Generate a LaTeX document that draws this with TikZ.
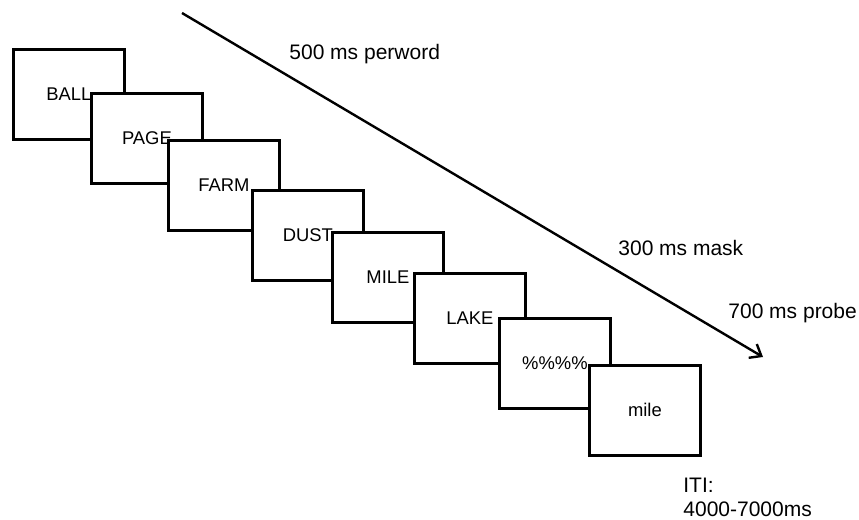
\documentclass[tikz,border=0pt]{standalone}
\usepackage{fontspec}
\setmainfont{Liberation Sans}
\usetikzlibrary{arrows.meta}

\tikzset{
  screen/.style={draw,line width=1.4pt,fill=white,anchor=north west,inner sep=0pt,
    minimum width=55.5pt,minimum height=45pt,font=\fontsize{9.2}{11}\selectfont},
  note/.style={inner sep=0pt,font=\fontsize{10.5}{12}\selectfont}
}

\begin{document}
\begin{tikzpicture}[x=0.5pt,y=-0.5pt]
\useasboundingbox (0,0) rectangle (859,520);
% word screens
\node[screen] (ball) at (12,48) {BALL};
\node[screen] (page) at (90,92) {PAGE};
\node[screen] (farm) at (167,139) {FARM};
\node[screen] (dust) at (251,189) {DUST};
\node[screen] (mile) at (331,231) {MILE};
\node[screen] (lake) at (413,272) {LAKE};
\node[screen] (mask) at (498,317) {\%\%\%\%};
\node[screen] (probe) at (588,364) {mile};
% time line
\coordinate (tstart) at (182,13);
\coordinate (tend) at (763,357);
\draw[line width=1.2pt,-{Straight Barb[length=5pt,width=8pt]}] (tstart) -- (tend);
% timings
\node[note,anchor=base west] (perword) at (289,59) {500 ms perword};
\node[note,anchor=base west] (masktime) at (618,255) {300 ms mask};
\node[note,anchor=base west] (probetime) at (728,318) {700 ms probe};
\node[note,anchor=north west,align=left] (iti) at (683,478) {ITI:\\4000-7000ms};
\end{tikzpicture}
\end{document}
